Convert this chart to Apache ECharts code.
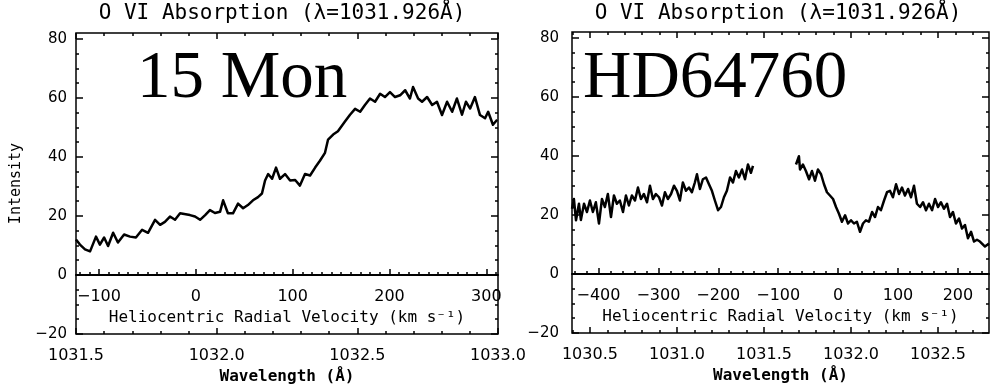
<!DOCTYPE html>
<html>
<head>
<meta charset="utf-8">
<script src="https://cdn.jsdelivr.net/npm/echarts@6/dist/echarts.min.js"></script>
<style>
  html, body { margin: 0; padding: 0; background: #fff; }
  #chart { width: 996px; height: 388px; }
</style>
</head>
<body>
<div id="chart"></div>
<script>
// 15 Mon spectrum (wavelength in Å, intensity)
const monWave = [1031.500, 1031.514, 1031.532, 1031.550, 1031.571, 1031.585, 1031.600, 1031.614, 1031.632, 1031.649,
  1031.671, 1031.692, 1031.713, 1031.735, 1031.756, 1031.781, 1031.799, 1031.816, 1031.834, 1031.852,
  1031.870, 1031.905, 1031.923, 1031.941, 1031.959, 1031.976, 1031.994, 1032.012, 1032.023, 1032.040,
  1032.058, 1032.076, 1032.094, 1032.111, 1032.129, 1032.147, 1032.161, 1032.172, 1032.183, 1032.197,
  1032.211, 1032.225, 1032.243, 1032.261, 1032.279, 1032.296, 1032.314, 1032.332, 1032.350, 1032.367,
  1032.385, 1032.396, 1032.414, 1032.431, 1032.456, 1032.474, 1032.492, 1032.510, 1032.527, 1032.545,
  1032.563, 1032.581, 1032.598, 1032.616, 1032.634, 1032.652, 1032.670, 1032.687, 1032.698, 1032.716,
  1032.730, 1032.748, 1032.766, 1032.783, 1032.801, 1032.819, 1032.837, 1032.854, 1032.872, 1032.886,
  1032.901, 1032.918, 1032.936, 1032.954, 1032.965, 1032.982, 1032.997]
const monInt = [12, 10.3, 8.7, 8, 13, 10.3, 12.7, 9.8, 14.3, 11,
  13.7, 13, 12.7, 15.3, 14.3, 18.7, 17, 18, 19.8, 18.7,
  20.9, 20.3, 19.8, 18.7, 20.3, 22, 21, 21.4, 25.3, 20.9,
  20.9, 24.2, 22.6, 23.7, 25.3, 26.4, 27.6, 32, 34.2, 32.6,
  36.4, 32.6, 34.2, 32, 32.2, 30.3, 34.2, 33.7, 36.4, 38.7,
  41.4, 45.9, 47.6, 48.7, 52, 54.3, 56.3, 55.3, 57.6, 59.8,
  58.7, 61.4, 60.3, 62, 60.3, 60.9, 62.6, 59.8, 63.7, 59.8,
  58.7, 60.3, 57.6, 58.7, 54.2, 58.7, 55.3, 59.8, 54.3, 58.7,
  56.4, 60.3, 54.2, 53.1, 55.3, 50.9, 52.6]

// HD64760 spectrum (null = gap in the data)
const hdWave = [1030.397, 1030.408, 1030.420, 1030.437, 1030.448, 1030.466, 1030.483, 1030.500, 1030.517, 1030.534,
  1030.552, 1030.569, 1030.586, 1030.603, 1030.621, 1030.638, 1030.655, 1030.672, 1030.690, 1030.707,
  1030.724, 1030.741, 1030.759, 1030.776, 1030.793, 1030.810, 1030.828, 1030.845, 1030.862, 1030.879,
  1030.897, 1030.914, 1030.931, 1030.948, 1030.966, 1030.983, 1031.000, 1031.017, 1031.034, 1031.052,
  1031.069, 1031.086, 1031.103, 1031.115, 1031.132, 1031.149, 1031.167, 1031.184, 1031.201, 1031.218,
  1031.236, 1031.253, 1031.270, 1031.287, 1031.305, 1031.322, 1031.339, 1031.356, 1031.374, 1031.391,
  1031.408, 1031.425, 1031.437,
  1031.560,
  1031.684, 1031.701, 1031.707, 1031.724, 1031.741, 1031.759, 1031.776, 1031.793, 1031.810, 1031.828,
  1031.845, 1031.862, 1031.879, 1031.897, 1031.914, 1031.931, 1031.948, 1031.966, 1031.983, 1032.000,
  1032.017, 1032.034, 1032.052, 1032.069, 1032.086, 1032.103, 1032.121, 1032.138, 1032.155, 1032.172,
  1032.190, 1032.207, 1032.224, 1032.241, 1032.259, 1032.276, 1032.293, 1032.310, 1032.328, 1032.345,
  1032.362, 1032.379, 1032.397, 1032.414, 1032.431, 1032.448, 1032.466, 1032.483, 1032.500, 1032.517,
  1032.534, 1032.552, 1032.569, 1032.586, 1032.603, 1032.621, 1032.638, 1032.655, 1032.672, 1032.690,
  1032.707, 1032.724, 1032.741, 1032.770, 1032.793]
const hdInt = [22.1, 25.4, 18.2, 23.8, 18.3, 23.8, 21, 24.9, 21, 24.3,
  17.1, 25.4, 22.7, 27.1, 19.3, 26.6, 23.8, 24.9, 21, 26.6,
  23.2, 26.6, 24.9, 29.3, 25.4, 27.1, 24.3, 29.9, 25.4, 27.1,
  26, 23.2, 27.7, 25.4, 27.1, 29.9, 28.2, 24.9, 31, 28.2,
  29.3, 27.7, 31, 33.8, 28.8, 32.1, 32.7, 30.4, 28.2, 24.9,
  21.6, 22.7, 26, 28.2, 32.7, 31, 34.9, 32.7, 35.4, 32.1,
  37.1, 34.3, 36.6,
  null,
  37.1, 39.9, 35.4, 37.1, 34.9, 32.1, 34.9, 31.6, 35.4, 33.8,
  30.4, 27.7, 26.6, 25.4, 22.7, 20.4, 17.7, 19.9, 17.1, 18.2,
  17.1, 17.7, 14.3, 17.1, 18.2, 17.7, 21, 19.3, 22.7, 21.6,
  24.9, 27.7, 28.2, 26, 30.4, 27.1, 29.3, 26.6, 28.8, 26,
  29.9, 23.8, 22.7, 24.3, 21.6, 23.8, 21.6, 25.4, 22.7, 24.3,
  22.1, 23.8, 19.3, 21, 17.1, 18.8, 15.4, 16.6, 12.1, 14.3,
  11, 11.6, 11, 9.3, 10.3]

// tick labels
const monWaveTicks = [1031.5, 1032.0, 1032.5, 1033.0]
const monVelTicks = [-100, 0, 100, 200, 300]
const hdWaveTicks = [1030.5, 1031.0, 1031.5, 1032.0, 1032.5]
const hdVelTicks = [-400, -300, -200, -100, 0, 100, 200]
const intTicks = [-20, 0, 20, 40, 60, 80]

const LAMBDA0 = 1031.926
const C_KMS = 299792.458
const toVel = w => (w - LAMBDA0) / LAMBDA0 * C_KMS

const steps = (from, to, step) => {
  const out = []
  for (let v = from; v <= to + 1e-9; v += step) out.push(+v.toFixed(3))
  return out
}

const MONO = 'DejaVu Sans Mono'
const SANS = 'DejaVu Sans'
const INK = '#000'
const line = { color: INK, width: 1.5 }
const minus = v => String(v).replace('-', '\u2212')

const Y_MIN = -20
const Y_MAX = 82
const PLOT_H = 301
// the velocity axis sits on intensity 0
const ZERO_OFFSET = -PLOT_H * (0 - Y_MIN) / (Y_MAX - Y_MIN)

const panels = [
  {
    grid: { left: 76, top: 33, width: 422, height: PLOT_H },
    waveMin: 1031.5, waveMax: 1033.0,
    waveMajor: monWaveTicks, waveMinor: steps(1031.5, 1033.0, 0.1),
    velMajor: monVelTicks, velMinor: steps(-120, 310, 10),
    yName: 'Intensity', yLabelMargin: 9,
    wave: monWave, int: monInt,
  },
  {
    grid: { left: 572, top: 32, width: 417, height: PLOT_H },
    waveMin: 1030.397, waveMax: 1032.793,
    waveMajor: hdWaveTicks, waveMinor: steps(1030.4, 1032.7, 0.1),
    velMajor: hdVelTicks, velMinor: steps(-440, 240, 20),
    yName: '', yLabelMargin: 13,
    wave: hdWave, int: hdInt,
  },
]

const grids = []
const xAxes = []
const yAxes = []
const series = []

// a tick-only axis (no line, no labels)
const tickAxis = (base, position, values, length, extra) => ({
  ...base, position, ...extra,
  axisLine: { show: false, onZero: false },
  axisTick: { show: true, inside: true, length, customValues: values, lineStyle: line },
  axisLabel: { show: false },
})

panels.forEach((p, gi) => {
  grids.push({ ...p.grid, show: true, borderColor: INK, borderWidth: 1.5, outerBoundsMode: 'none' })
  const yBase = yAxes.length
  const waveBase = { gridIndex: gi, type: 'value', min: p.waveMin, max: p.waveMax, splitLine: { show: false } }
  const velBase = { gridIndex: gi, type: 'value', min: toVel(p.waveMin), max: toVel(p.waveMax), splitLine: { show: false } }
  const intBase = { gridIndex: gi, type: 'value', min: Y_MIN, max: Y_MAX, splitLine: { show: false } }

  const waveIndex = xAxes.length
  xAxes.push(
    {
      ...waveBase, position: 'bottom',
      name: 'Wavelength (Å)', nameLocation: 'middle', nameGap: 34,
      nameTextStyle: { fontFamily: MONO, fontSize: 16, fontWeight: 'bold', color: INK },
      axisLine: { show: false, onZero: false },
      axisTick: { show: true, inside: true, length: 6, customValues: p.waveMajor, lineStyle: line },
      axisLabel: { customValues: p.waveMajor, formatter: v => v.toFixed(1), margin: 14, fontFamily: SANS, fontSize: 16, color: INK },
    },
    tickAxis(waveBase, 'bottom', p.waveMinor, 3),
    tickAxis(waveBase, 'top', p.waveMajor, 6),
    tickAxis(waveBase, 'top', p.waveMinor, 3),
    {
      ...velBase, position: 'bottom', offset: ZERO_OFFSET,
      name: 'Heliocentric Radial Velocity (km s\u207B\u00B9)', nameLocation: 'middle', nameGap: 35,
      nameTextStyle: { fontFamily: MONO, fontSize: 16, color: INK },
      axisLine: { show: true, onZero: false, lineStyle: { color: INK, width: 2 } },
      axisTick: { show: true, inside: true, length: 6, customValues: p.velMajor, lineStyle: line },
      axisLabel: { customValues: p.velMajor, formatter: minus, margin: 14, fontFamily: SANS, fontSize: 16, color: INK },
    },
    tickAxis(velBase, 'bottom', p.velMinor, 3, { offset: ZERO_OFFSET }),
  )

  yAxes.push(
    {
      ...intBase, position: 'left',
      name: p.yName, nameLocation: 'middle', nameGap: 52,
      nameTextStyle: { fontFamily: MONO, fontSize: 15, color: INK },
      axisLine: { show: false, onZero: false },
      axisTick: { show: true, inside: true, length: 7, customValues: intTicks, lineStyle: line },
      axisLabel: { customValues: intTicks, formatter: minus, margin: p.yLabelMargin, fontFamily: SANS, fontSize: 15, color: INK },
    },
    tickAxis(intBase, 'left', steps(Y_MIN, 80, 5), 3),
    tickAxis(intBase, 'right', intTicks, 7),
    tickAxis(intBase, 'right', steps(Y_MIN, 80, 5), 3),
  )

  series.push({
    type: 'line',
    xAxisIndex: waveIndex,
    yAxisIndex: yBase,
    data: p.wave.map((w, i) => [w, p.int[i] === null ? '-' : p.int[i]]),
    showSymbol: false,
    connectNulls: false,
    lineStyle: { color: INK, width: 2.5, join: 'round' },
    animation: false,
  })
})

const titleStyle = { fontFamily: MONO, fontSize: 21, fontWeight: 'normal', color: INK }
const bigStyle = { fontFamily: 'Liberation Serif', fontSize: 67, fontWeight: 'normal', color: INK }

const chart = echarts.init(document.getElementById('chart'), null, { renderer: 'canvas' })
chart.setOption({
  animation: false,
  backgroundColor: '#fff',
  title: [
    { text: 'O VI Absorption (λ=1031.926Å)', left: 282, top: 3, textAlign: 'center', padding: 0, textStyle: titleStyle },
    { text: 'O VI Absorption (λ=1031.926Å)', left: 778, top: 3, textAlign: 'center', padding: 0, textStyle: titleStyle },
    { text: '15 Mon', left: 137, top: 46, padding: 0, textStyle: bigStyle },
    { text: 'HD64760', left: 583, top: 46, padding: 0, textStyle: bigStyle },
  ],
  grid: grids,
  xAxis: xAxes,
  yAxis: yAxes,
  series,
})
</script>
</body>
</html>
